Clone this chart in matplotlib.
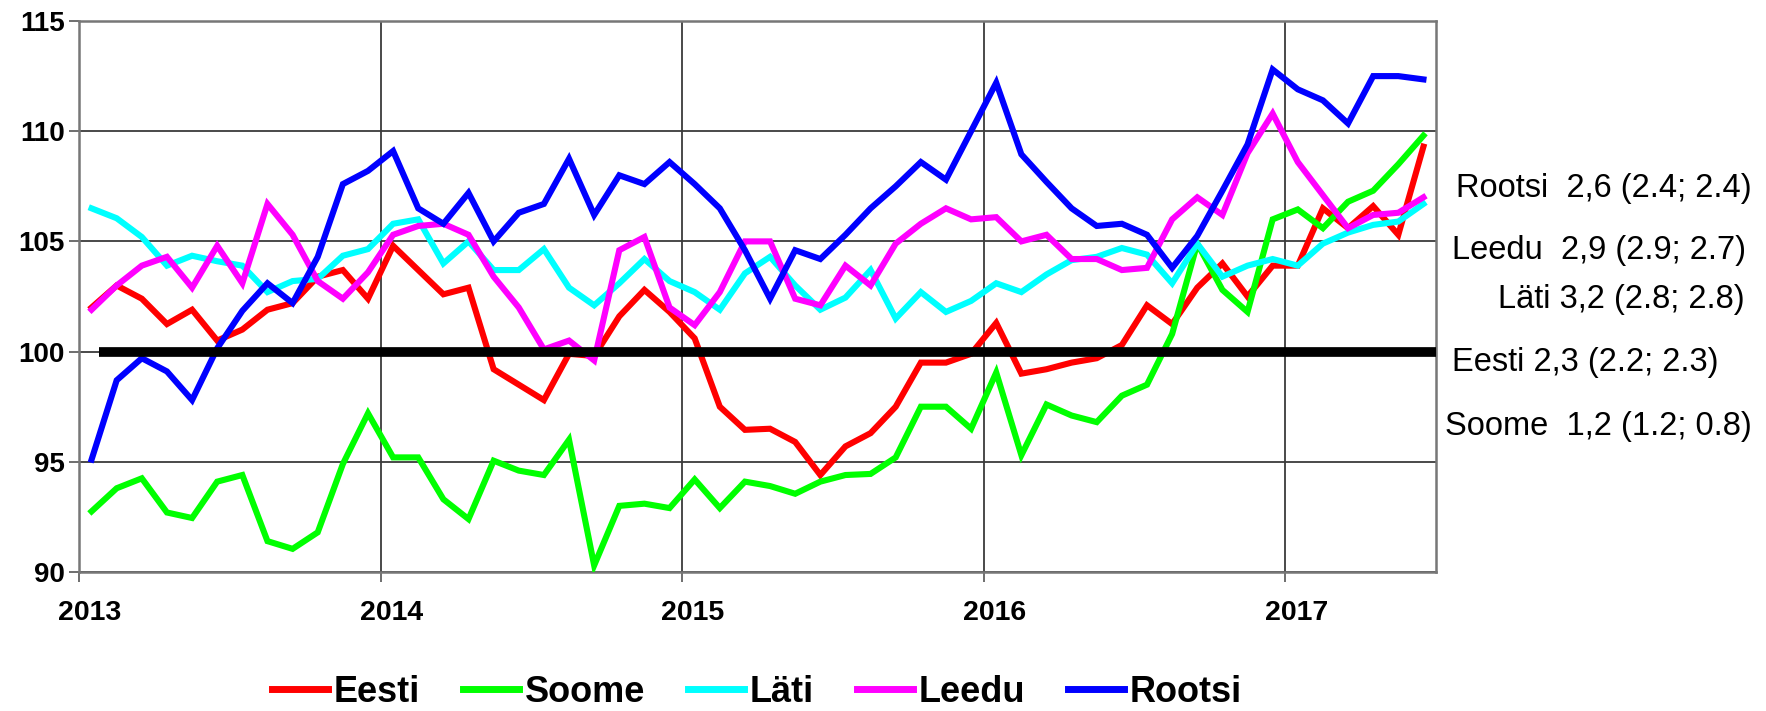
import matplotlib
matplotlib.use("Agg")
import matplotlib.pyplot as plt
import matplotlib.transforms as mtransforms
import numpy as np

# ---------------- data (monthly index, Jan 2013 .. Jun 2017) ----------------
start_year = 2013
years = [2013, 2014, 2015, 2016, 2017]

eesti = [102.0, 103.0, 102.4, 101.25, 101.9, 100.5, 101.0, 101.9, 102.2, 103.4, 103.7, 102.4,
         104.8, 103.7, 102.6, 102.9, 99.2, 98.5, 97.8, 99.9, 99.8, 101.6, 102.8, 101.8,
         100.6, 97.5, 96.45, 96.5, 95.9, 94.4, 95.7, 96.3, 97.5, 99.5, 99.5, 99.9,
         101.3, 99.0, 99.2, 99.5, 99.7, 100.3, 102.1, 101.25, 102.9, 104.0, 102.5, 103.9,
         103.9, 106.5, 105.6, 106.6, 105.3, 109.3]
soome = [92.75, 93.8, 94.25, 92.7, 92.45, 94.1, 94.4, 91.4, 91.05, 91.8, 94.9, 97.2,
         95.2, 95.2, 93.3, 92.4, 95.05, 94.6, 94.4, 96.0, 90.3, 93.0, 93.1, 92.9,
         94.2, 92.9, 94.1, 93.9, 93.55, 94.1, 94.4, 94.45, 95.2, 97.5, 97.5, 96.5,
         99.05, 95.3, 97.6, 97.1, 96.8, 98.0, 98.5, 100.8, 104.9, 102.8, 101.8, 106.0,
         106.45, 105.6, 106.8, 107.3, 108.5, 109.8]
lati = [106.5, 106.05, 105.2, 103.9, 104.35, 104.1, 103.9, 102.7, 103.2, 103.3, 104.35, 104.65,
        105.8, 106.0, 104.0, 105.0, 103.7, 103.7, 104.65, 102.9, 102.1, 103.1, 104.2, 103.2,
        102.7, 101.9, 103.55, 104.3, 103.0, 101.9, 102.45, 103.7, 101.5, 102.7, 101.8, 102.3,
        103.1, 102.7, 103.5, 104.15, 104.3, 104.7, 104.4, 103.1, 104.9, 103.4, 103.9, 104.2,
        103.9, 104.9, 105.4, 105.75, 105.9, 106.7]
leedu = [101.9, 103.0, 103.9, 104.3, 102.9, 104.8, 103.1, 106.7, 105.3, 103.2, 102.4, 103.6,
         105.3, 105.7, 105.8, 105.3, 103.4, 102.0, 100.1, 100.5, 99.6, 104.6, 105.2, 102.0,
         101.2, 102.7, 105.0, 105.0, 102.4, 102.1, 103.9, 103.0, 104.9, 105.8, 106.5, 106.0,
         106.1, 105.0, 105.3, 104.2, 104.2, 103.7, 103.8, 106.0, 107.0, 106.2, 109.0, 110.8,
         108.6, 107.1, 105.6, 106.2, 106.3, 107.0]
rootsi = [95.1, 98.7, 99.7, 99.1, 97.8, 100.15, 101.85, 103.1, 102.2, 104.3, 107.6, 108.2,
          109.1, 106.5, 105.8, 107.2, 105.0, 106.3, 106.7, 108.75, 106.2, 108.0, 107.6, 108.6,
          107.6, 106.5, 104.6, 102.4, 104.6, 104.2, 105.3, 106.5, 107.5, 108.6, 107.8, 110.0,
          112.2, 108.95, 107.7, 106.5, 105.7, 105.8, 105.3, 103.8, 105.25, 107.3, 109.4, 112.8,
          111.9, 111.4, 110.35, 112.5, 112.5, 112.35]

series_names = ["Eesti", "Soome", "Läti", "Leedu", "Rootsi"]
series_values = [eesti, soome, lati, leedu, rootsi]
series_colors = ["#FF0000", "#00FF00", "#00FFFF", "#FF00FF", "#0000FF"]

yticks = [90, 95, 100, 105, 110, 115]
baseline = 100

side_labels = ["Rootsi  2,6 (2.4; 2.4)", "Leedu  2,9 (2.9; 2.7)", "Läti 3,2 (2.8; 2.8)",
               "Eesti 2,3 (2.2; 2.3)", "Soome  1,2 (1.2; 0.8)"]

# ---------------- figure ----------------
W, H = 1766, 711
fig = plt.figure(figsize=(W / 100, H / 100), dpi=100)
plt.rcParams['font.family'] = ['Liberation Sans', 'DejaVu Sans']

L, R, T, B = 79, 1436, 21, 572
ax = fig.add_axes([L / W, 1 - B / H, (R - L) / W, (B - T) / H])

n = len(eesti)
x = start_year + (np.arange(n) + 0.5) / 12.0

for name, vals, col in zip(series_names, series_values, series_colors):
    ax.plot(x, vals, color=col, lw=4.4, label=name, solid_joinstyle='miter', zorder=3)

ax.plot([2013.065, 2017.5], [baseline, baseline], color='black', lw=7,
        solid_capstyle='butt', zorder=5, clip_on=False)

ax.set_xlim(2013, 2017.5)
ax.set_ylim(90, 115)
ax.set_yticks(yticks)
ax.set_xticks(years)
ax.set_xticklabels([str(y) for y in years])
ax.grid(True, color='#3a3a3a', lw=1.3, zorder=1)

for s in ax.spines.values():
    s.set_color('#777777')
    s.set_linewidth(1.8)

ax.tick_params(axis='both', direction='out', length=7, width=1.2, color='#555555')
ax.tick_params(axis='y', labelsize=20, pad=3)
ax.tick_params(axis='x', labelsize=20.5, pad=13)
for lab in ax.get_yticklabels() + ax.get_xticklabels():
    lab.set_fontweight('bold')
offset = mtransforms.ScaledTranslation(11 / 100, 0, fig.dpi_scale_trans)
for lab in ax.get_xticklabels():
    lab.set_transform(lab.get_transform() + offset)

# right-side annotations (pixel positions)
side_pos = [(1456, 188, 'left'), (1452, 250, 'left'), (1745, 300, 'right'),
            (1452, 363, 'left'), (1445, 426, 'left')]
for txt, (px, py, ha) in zip(side_labels, side_pos):
    fig.text(px / W, 1 - py / H, txt, fontsize=23.5, ha=ha, va='center', color='black')

leg = fig.legend(loc='center', bbox_to_anchor=(757 / W, 1 - 692 / H), ncol=5,
                 frameon=False, prop={'weight': 'bold', 'size': 26},
                 handlelength=1.55, handletextpad=0.15, columnspacing=1.2)
for h in leg.get_lines():
    h.set_linewidth(5)

fig.savefig("out.png", dpi=100)
